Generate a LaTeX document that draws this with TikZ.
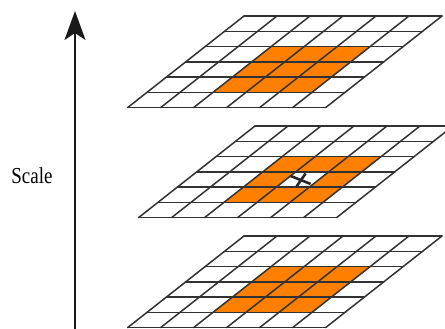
\documentclass[tikz,border=0pt]{standalone}
\usepackage{fontspec}
\setmainfont{Liberation Serif}
\usetikzlibrary{arrows.meta,calc}
\definecolor{gridline}{RGB}{50,50,50}
\definecolor{patch}{RGB}{255,128,0}
\tikzset{
  gline/.style={draw=gridline, line width=1.5pt, line cap=round},
  cellfill/.style={fill=patch},
  scalearrow/.style={draw=black!90, line width=2.2pt, -{Stealth[length=29pt,width=21pt,inset=7pt]}},
  xmark/.style={draw=black!85, line width=2.6pt},
  lbl/.style={font=\fontsize{19}{22}\selectfont, inner sep=0pt}
}
\newcommand{\layergrid}[3]{%
  \begin{scope}[shift={(#1,#2)}, x={(33pt,0pt)}, y={(-19.4pt,-15.27pt)}]
    \fill[cellfill] (2,2)--(5,2)--(5,5)--(2,5)--cycle;
    #3
    \foreach \k in {0,...,6} {
      \draw[gline] (0,\k)--(6,\k);
      \draw[gline] (\k,0)--(\k,6);
    }
  \end{scope}}
\begin{document}
\begin{tikzpicture}[x=1pt,y=-1pt]
  \useasboundingbox (0,0) rectangle (445,329);
  \clip (0,0) rectangle (445,329);
  % arrow
  \coordinate (abot) at (75,335);
  \coordinate (atop) at (75,11);
  \draw[scalearrow] (abot) -- (atop);
  \node[lbl, anchor=base] (scalelabel) at (32,183) {\scalebox{1}[1.2]{Scale}};
  % grids
  \layergrid{244}{16}{}
  \layergrid{255}{126}{\fill[white] (3,3)--(4,3)--(4,4)--(3,4)--cycle;
    \coordinate (xc) at (3.5,3.5);}
  \layergrid{244}{236}{}
  % cross in the centre cell
  \coordinate (xm) at ($(xc)+(-2,0.5)$);
  \draw[xmark] ($(xm)+(-10,-4)$) -- ($(xm)+(10,4)$);
  \draw[xmark] ($(xm)+(-4,6.5)$) -- ($(xm)+(5,-6.5)$);
\end{tikzpicture}
\end{document}
